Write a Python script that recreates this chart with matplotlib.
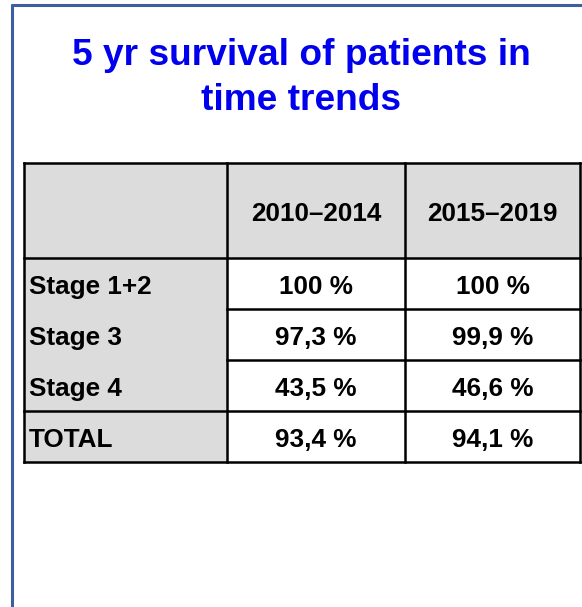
import matplotlib.pyplot as plt
from matplotlib.patches import Rectangle

plt.rcParams['font.family'] = ['Liberation Sans', 'DejaVu Sans']

# data
title = "5 yr survival of patients in\ntime trends"
periods = ["2010\u20132014", "2015\u20132019"]
stages = ["Stage 1+2", "Stage 3", "Stage 4", "TOTAL"]
survival_2010_2014 = ["100 %", "97,3 %", "43,5 %", "93,4 %"]
survival_2015_2019 = ["100 %", "99,9 %", "46,6 %", "94,1 %"]

W, H = 582, 607
fig = plt.figure(figsize=(W / 100, H / 100), dpi=100)
ax = fig.add_axes([0, 0, 1, 1])
ax.set_xlim(0, W)
ax.set_ylim(H, 0)
ax.axis('off')

# slide frame
frame_col = '#3b5fa3'
ax.plot([12, 12], [4, H], color=frame_col, lw=2.2, solid_capstyle='butt')
ax.plot([11, W], [5, 5], color=frame_col, lw=2.2, solid_capstyle='butt')

ax.text(301, 78, title, ha='center', va='center', color='#0000ee',
        fontsize=26.7, fontweight='bold', linespacing=1.36)

# table geometry
col_x = [24, 227, 405, 580]
row_y = [163, 258, 309, 360, 411, 462]
gray = '#dcdcdc'
lw = 1.8
dy = 3.5  # nudge text down to the visual middle of the cell

# fills
ax.add_patch(Rectangle((col_x[0], row_y[0]), col_x[3] - col_x[0], row_y[1] - row_y[0],
                       facecolor=gray, edgecolor='none'))
ax.add_patch(Rectangle((col_x[0], row_y[1]), col_x[1] - col_x[0], row_y[5] - row_y[1],
                       facecolor=gray, edgecolor='none'))

# grid lines
for y in [row_y[0], row_y[1], row_y[4], row_y[5]]:
    ax.plot([col_x[0], col_x[3]], [y, y], color='black', lw=lw, solid_capstyle='projecting')
for y in [row_y[2], row_y[3]]:
    ax.plot([col_x[1], col_x[3]], [y, y], color='black', lw=lw, solid_capstyle='projecting')
for x in col_x:
    ax.plot([x, x], [row_y[0], row_y[5]], color='black', lw=lw, solid_capstyle='projecting')

fs = 18.8
# header
for i, p in enumerate(periods):
    cx = (col_x[i + 1] + col_x[i + 2]) / 2
    ax.text(cx, (row_y[0] + row_y[1]) / 2 + dy, p, ha='center', va='center',
            fontsize=fs, fontweight='bold')

# body
for r, stage in enumerate(stages):
    cy = (row_y[r + 1] + row_y[r + 2]) / 2 + dy
    ax.text(col_x[0] + 5, cy, stage, ha='left', va='center', fontsize=fs, fontweight='bold')
    for i, vals in enumerate([survival_2010_2014, survival_2015_2019]):
        cx = (col_x[i + 1] + col_x[i + 2]) / 2
        ax.text(cx, cy, vals[r], ha='center', va='center', fontsize=fs, fontweight='bold')

fig.savefig('out.png', dpi=100, facecolor='white')
